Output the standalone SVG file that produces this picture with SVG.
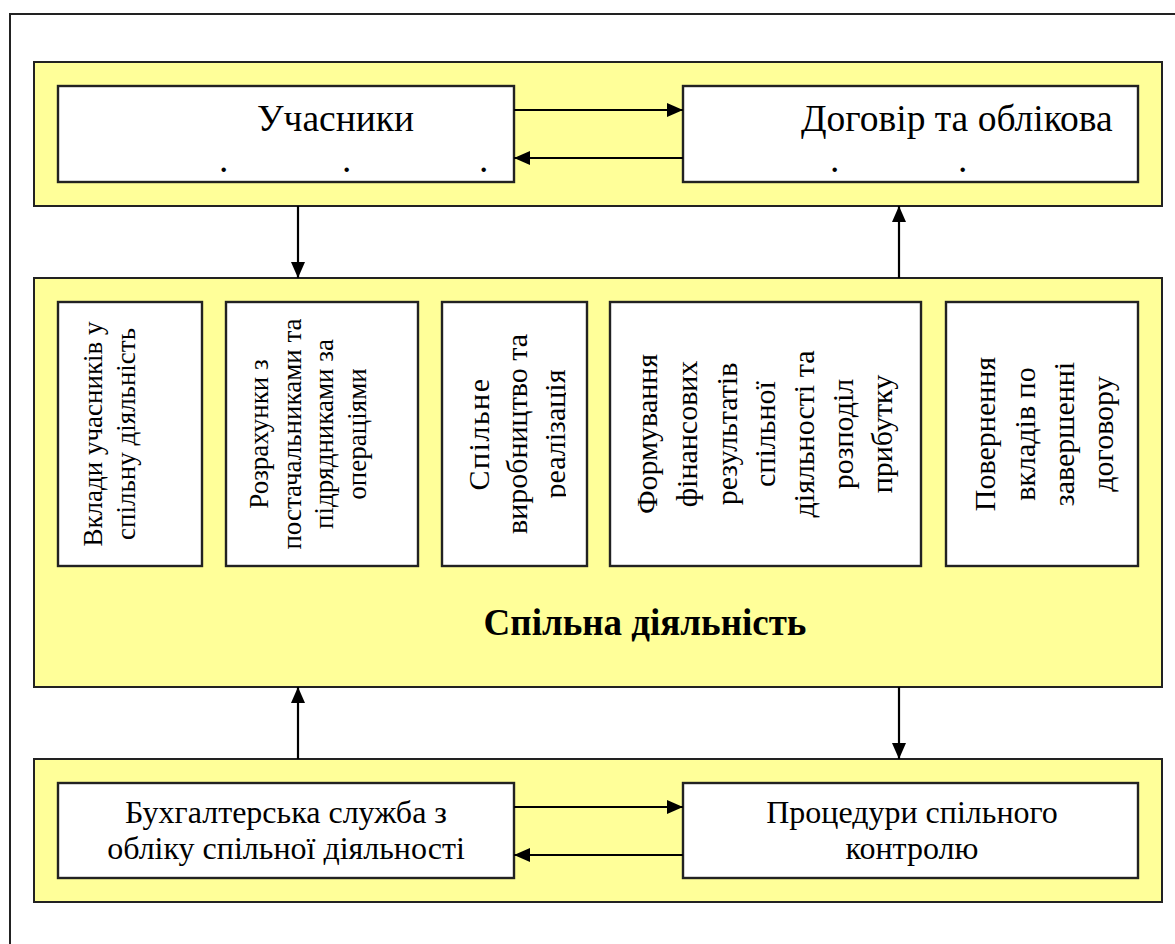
<svg xmlns="http://www.w3.org/2000/svg" width="1175" height="944" viewBox="0 0 1175 944" font-family="Liberation Serif, Times New Roman, serif">
  <defs>
    <marker id="arrow" viewBox="0 0 16 14" refX="16" refY="7" markerWidth="16" markerHeight="14" markerUnits="userSpaceOnUse" orient="auto">
      <path d="M0,0 L16,7 L0,14 Z" fill="#000"/>
    </marker>
    <!-- the production box cuts its last line off at the baseline -->
    <clipPath id="clip-box3">
      <rect x="442" y="302" width="124" height="264"/>
    </clipPath>
  </defs>
  <style>
    .frame { fill: none; stroke: #222; stroke-width: 2; }
    .band { fill: #FFFF99; stroke: #222; stroke-width: 2; }
    .box { fill: #fff; stroke: #222; stroke-width: 2.4; }
    .link { stroke: #000; stroke-width: 2.2; fill: none; marker-end: url(#arrow); }
    text { fill: #000; }
    .big { font-size: 37.5px; }
    .mid { font-size: 32px; }
    .vs { font-size: 27px; text-anchor: middle; }
    .vl { font-size: 30px; text-anchor: middle; }
    .title { font-size: 37px; font-weight: bold; text-anchor: middle; }
    .c { text-anchor: middle; }
  </style>

  <rect width="1175" height="944" fill="#fff"/>
  <!-- page frame (continues past the right and bottom edges) -->
  <path class="frame" d="M10,944 V14 H1175"/>

  <!-- horizontal bands -->
  <g id="band-top"><rect class="band" x="34" y="62" width="1128" height="144"/></g>
  <g id="band-middle">
    <rect class="band" x="34" y="278" width="1128" height="409"/>
    <text class="title" x="645" y="635">Спільна діяльність</text>
  </g>
  <g id="band-bottom"><rect class="band" x="34" y="759" width="1128" height="143"/></g>

  <!-- top row -->
  <g id="participants">
    <rect class="box" x="58" y="86" width="456" height="96"/>
    <text class="big" x="257" y="131">Учасники</text>
    <text class="big" x="219" y="172">.</text>
    <text class="big" x="342" y="172">.</text>
    <text class="big" x="479" y="172">.</text>
  </g>
  <g id="contract">
    <rect class="box" x="683" y="86" width="455" height="96"/>
    <text class="big" x="801" y="131">Договір та облікова</text>
    <text class="big" x="830" y="172">.</text>
    <text class="big" x="958" y="172">.</text>
  </g>

  <!-- joint activity sections, vertical text -->
  <g id="contributions">
    <rect class="box" x="58" y="302" width="144" height="264"/>
    <g transform="translate(130,434) rotate(-90)">
      <text class="vs" x="0" y="-28">Вклади учасників у</text>
      <text class="vs" x="0" y="5">спільну діяльність</text>
    </g>
  </g>
  <g id="settlements">
    <rect class="box" x="226" y="302" width="192" height="264"/>
    <g transform="translate(322,434) rotate(-90)">
      <text class="vs" x="0" y="-54">Розрахунки з</text>
      <text class="vs" x="0" y="-21.5">постачальниками та</text>
      <text class="vs" x="0" y="11">підрядниками за</text>
      <text class="vs" x="0" y="43.5">операціями</text>
    </g>
  </g>
  <g id="production">
    <rect class="box" x="442" y="302" width="145" height="264"/>
    <g clip-path="url(#clip-box3)">
      <g transform="translate(523,434) rotate(-90)">
        <text class="vl" x="0" y="-34" letter-spacing="1.5">Спільне</text>
        <text class="vl" x="0" y="4">виробництво та</text>
        <text class="vl" x="0" y="42">реалізація</text>
      </g>
    </g>
  </g>
  <g id="results">
    <rect class="box" x="610" y="302" width="311" height="264"/>
    <g transform="translate(766,434) rotate(-90)">
      <text class="vl" x="0" y="-109">Формування</text>
      <text class="vl" x="0" y="-69">фінансових</text>
      <text class="vl" x="0" y="-29">результатів</text>
      <text class="vl" x="0" y="9">спільної</text>
      <text class="vl" x="0" y="48">діяльності та</text>
      <text class="vl" x="0" y="87">розподіл</text>
      <text class="vl" x="0" y="126">прибутку</text>
    </g>
  </g>
  <g id="return">
    <rect class="box" x="946" y="302" width="192" height="264"/>
    <g transform="translate(1044,434) rotate(-90)">
      <text class="vl" x="0" y="-49">Повернення</text>
      <text class="vl" x="0" y="-9">вкладів по</text>
      <text class="vl" x="0" y="30">завершенні</text>
      <text class="vl" x="0" y="69">договору</text>
    </g>
  </g>

  <!-- bottom row -->
  <g id="accounting">
    <rect class="box" x="58" y="783" width="456" height="95"/>
    <text class="mid c" x="286" y="823">Бухгалтерська служба з</text>
    <text class="mid c" x="286" y="859">обліку спільної діяльності</text>
  </g>
  <g id="control">
    <rect class="box" x="683" y="783" width="455" height="95"/>
    <text class="mid c" x="912" y="823">Процедури спільного</text>
    <text class="mid c" x="912" y="859">контролю</text>
  </g>

  <!-- connectors -->
  <g id="connectors">
    <line class="link" x1="514" y1="110" x2="683" y2="110"/>
    <line class="link" x1="683" y1="158" x2="514" y2="158"/>
    <line class="link" x1="298" y1="206" x2="298" y2="278"/>
    <line class="link" x1="899" y1="278" x2="899" y2="206"/>
    <line class="link" x1="298" y1="759" x2="298" y2="687"/>
    <line class="link" x1="899" y1="687" x2="899" y2="759"/>
    <line class="link" x1="514" y1="807" x2="683" y2="807"/>
    <line class="link" x1="683" y1="855" x2="514" y2="855"/>
  </g>
</svg>
